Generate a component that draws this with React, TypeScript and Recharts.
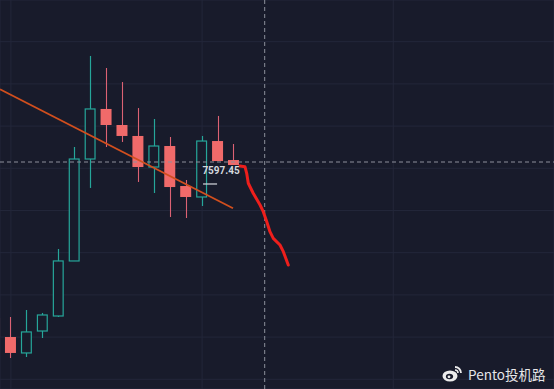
import React from 'react';
import { ComposedChart, Bar, Line, XAxis, YAxis, CartesianGrid, ReferenceLine, ReferenceDot } from 'recharts';

// candle index
const idx = [0, 1, 2, 3, 4, 5, 6, 7, 8, 9, 10, 11, 12, 13, 14, 15];
const opens = [7412.6, 7390.1, 7371.2, 7397.2, 7415.0, 7480.2, 7601.0, 7660.3, 7641.3, 7628.3, 7591.5, 7616.4, 7569.0, 7556.0, 7622.3, 7599.8];
const closes = [7390.1, 7371.2, 7396.1, 7416.2, 7480.2, 7601.0, 7660.3, 7641.3, 7628.3, 7591.5, 7616.4, 7567.8, 7556.0, 7622.3, 7598.6, 7593.9];
const highs = [7419.8, 7413.8, 7422.1, 7418.6, 7494.4, 7615.2, 7723.1, 7708.8, 7692.2, 7661.4, 7648.4, 7627.1, 7576.1, 7628.3, 7652.0, 7618.8];
const lows = [7386.6, 7365.2, 7366.4, 7388.9, 7413.8, 7480.2, 7566.7, 7615.2, 7621.2, 7573.8, 7560.7, 7532.3, 7531.1, 7545.3, 7598.6, 7593.9];

// hand drawn projection (x in candle index units, y in price)
const drawX = [15.38, 15.69, 15.8, 15.9, 16.21, 16.64, 16.84, 17.06, 17.26, 17.47, 17.89, 18.1, 18.41];
const drawY = [7592.7, 7591.9, 7584.1, 7572.3, 7560.4, 7546.5, 7538.6, 7526.7, 7514.9, 7507.0, 7499.1, 7491.2, 7475.4];

// trend line endpoints
const trendX = [0.314, 14.94];
const trendY = [7683.6, 7542.6];

const crossX = 16.93;
const lastPrice = 7597.45;
const priceLabel = '7597.45';
const labelPos = { x: 14.19, y: 7586.8 };
const markX = [13.06, 13.94];
const markY = 7571.4;

const xTicks = [1, 13, 25];
const yTicks = [7340, 7390, 7440, 7490, 7540, 7590, 7640, 7690, 7740];
const xDomain: [number, number] = [0.314, 35.09];
const yDomain: [number, number] = [7328.5, 7789.4];

const candles = idx.map((i, k) => ({ i, o: opens[k], c: closes[k], h: highs[k], l: lows[k] }));
const drawn = drawX.map((x, k) => ({ i: x, p: drawY[k] }));

const BG = '#181b2b';
const GREEN = '#26a69a';
const RED = '#f06a6a';
const RED_WICK = '#dc6274';

const Candle = (props: any) => {
  const { x, y, width, height, payload } = props;
  const { o, c, h, l } = payload;
  const top = Math.min(y, y + height);
  const bottom = Math.max(y, y + height);
  const ratio = (bottom - top) / (h - l || 1);
  const py = (v: number) => top + (h - v) * ratio;
  const up = c >= o;
  const cx = Math.round(x + width / 2) + 0.5;
  const bTop = py(Math.max(o, c));
  const bBot = py(Math.min(o, c));
  const bh = Math.max(1, bBot - bTop);
  if (up) {
    return (
      <g>
        <line x1={cx} x2={cx} y1={top} y2={bTop} stroke={GREEN} strokeWidth={1.2} />
        <line x1={cx} x2={cx} y1={bTop + bh} y2={bottom} stroke={GREEN} strokeWidth={1.2} />
        <rect x={x + 0.6} y={bTop} width={width - 1.2} height={bh} fill={BG} stroke={GREEN} strokeWidth={1.2} />
      </g>
    );
  }
  return (
    <g>
      <line x1={cx} x2={cx} y1={top} y2={bottom} stroke={RED_WICK} strokeWidth={1.1} />
      <rect x={x} y={bTop} width={width} height={bh} fill={RED} />
    </g>
  );
};

const PriceText = (props: any) => {
  const { cx, cy } = props;
  return (
    <text x={cx} y={cy} textAnchor="middle" dominantBaseline="central" fill="#d6d8de" fontSize={10} fontWeight={700} fontFamily="Roboto, 'Noto Sans', sans-serif">
      {priceLabel}
    </text>
  );
};

export default function App() {
  return (
    <div style={{ position: 'absolute', left: 0, top: 0, width: 554, height: 389, background: BG, overflow: 'hidden' }}>
      <ComposedChart width={554} height={389} data={candles} margin={{ top: 0, right: 0, bottom: 0, left: 0 }}>
        <CartesianGrid stroke="#23273a" strokeWidth={1} />
        <XAxis dataKey="i" type="number" domain={xDomain} ticks={xTicks} allowDataOverflow hide />
        <XAxis xAxisId="d" dataKey="i" type="number" domain={xDomain} allowDataOverflow hide />
        <YAxis type="number" domain={yDomain} ticks={yTicks} allowDataOverflow hide />
        <ReferenceLine x={crossX} stroke="#8d909c" strokeDasharray="4 3" strokeWidth={1} />
        <ReferenceLine y={lastPrice} stroke="#8d909c" strokeDasharray="4 3" strokeWidth={1} />
        <Bar dataKey={(d: any) => [d.l, d.h]} barSize={11} shape={<Candle />} isAnimationActive={false} />
        <ReferenceLine
          segment={[{ x: trendX[0], y: trendY[0] }, { x: trendX[1], y: trendY[1] }]}
          stroke="#d24f1e"
          strokeWidth={1.8}
          ifOverflow="visible"
        />
        <ReferenceLine
          segment={[{ x: markX[0], y: markY }, { x: markX[1], y: markY }]}
          stroke="#c9cbd2"
          strokeWidth={1.3}
        />
        <ReferenceDot x={labelPos.x} y={labelPos.y} r={0} shape={<PriceText />} />
        <Line
          xAxisId="d"
          data={drawn}
          dataKey="p"
          type="linear"
          stroke="#ee1f1c"
          strokeWidth={3}
          dot={false}
          activeDot={false}
          strokeLinejoin="round"
          strokeLinecap="round"
          isAnimationActive={false}
        />
      </ComposedChart>
      <div style={{ position: 'absolute', left: 442, top: 364, display: 'flex', alignItems: 'center', color: '#e6e6e8', fontFamily: "'Noto Sans CJK SC', sans-serif", fontSize: 13.5 }}>
        <svg width={22} height={18} viewBox="0 0 22 18" style={{ marginRight: 4 }}>
          <ellipse cx={8} cy={11} rx={7.5} ry={5.5} fill="#ececec" />
          <ellipse cx={7.5} cy={11.5} rx={3.6} ry={2.8} fill={BG} />
          <circle cx={7} cy={11.8} r={1.4} fill="#ececec" />
          <path d="M13 2 A6 6 0 0 1 19 8" stroke="#ececec" strokeWidth={1.8} fill="none" />
          <path d="M13 5 A3 3 0 0 1 16 8" stroke="#ececec" strokeWidth={1.6} fill="none" />
        </svg>
        <span>Pento投机路</span>
      </div>
    </div>
  );
}
